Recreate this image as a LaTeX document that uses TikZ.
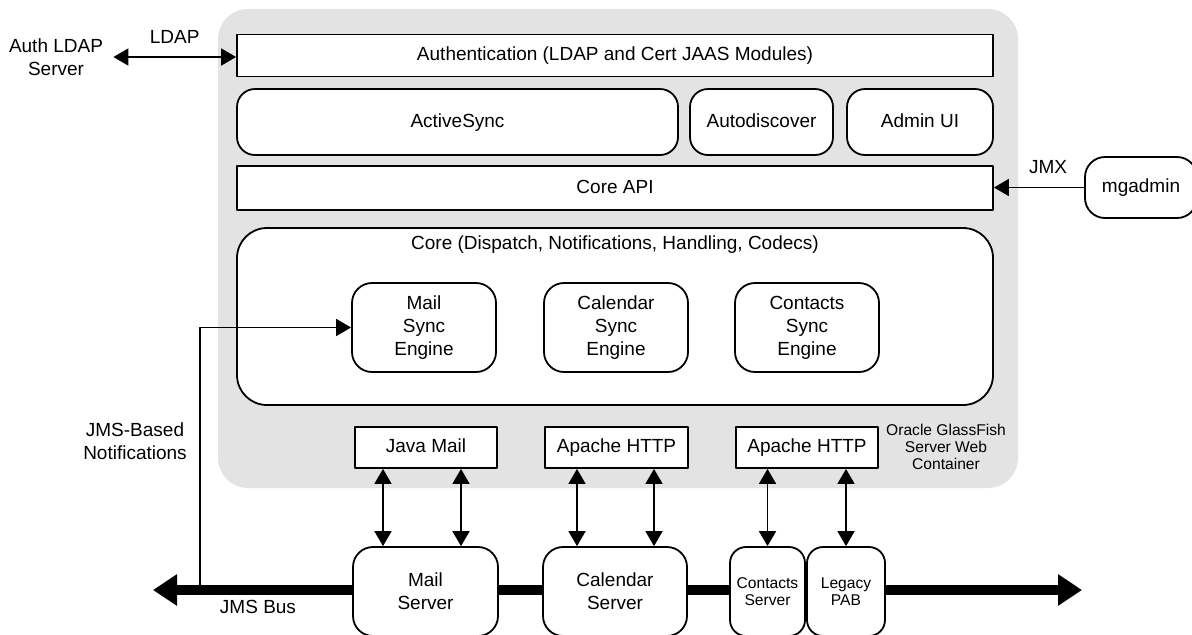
\documentclass[tikz,border=0pt]{standalone}
\usepackage{fontspec}
\setmainfont{Liberation Sans}
\usetikzlibrary{arrows.meta}

\begin{document}
\begin{tikzpicture}
	[x=0.5pt,y=-0.5pt,line join=round,
	font=\fontsize{9.5}{11.5}\selectfont,
	%Styles
	block/.style={draw,fill=white,line width=0.9pt,align=center,inner sep=0pt},
	rblock/.style={block,rounded corners=#1},
	rblock/.default=9pt,
	one line/.style={text height=7pt,text depth=2pt},
	small text/.style={align=center,font=\fontsize{7.8}{8.3}\selectfont},
	link/.style={line width=0.9pt,-{Triangle[width=8.5pt,length=7.5pt]}},
	both link/.style={line width=0.9pt,{Triangle[width=8.5pt,length=7.5pt]}-{Triangle[width=8.5pt,length=7.5pt]}},
	bus/.style={line width=5pt,{Triangle[width=15pt,length=12pt]}-{Triangle[width=15pt,length=12pt]}}
	]
	\useasboundingbox (0,0) rectangle (1192,634);

	%Web container
	\fill[black!11,rounded corners=15pt] (218,9) rectangle (1018,488);

	%JMS bus
	\coordinate (busleft) at (153,590);
	\coordinate (busright) at (1082,590);
	\coordinate (jmsjoin) at (200,590);
	\draw[bus] (busleft) -- (busright);

	%The graphic
	\node[block,one line,minimum width=378pt,minimum height=21pt] (auth) at (615,55.5) {Authentication (LDAP and Cert JAAS Modules)};
	\node[rblock,one line,minimum width=220.5pt,minimum height=33pt] (activesync) at (457.5,122) {ActiveSync};
	\node[rblock,one line,minimum width=71.5pt,minimum height=33pt] (autodisc) at (761.5,122) {Autodiscover};
	\node[rblock,one line,minimum width=73pt,minimum height=33pt] (adminui) at (920,122) {Admin UI};
	\node[block,one line,minimum width=378pt,minimum height=22pt] (coreapi) at (615,188) {Core API};

	\node[rblock=15pt,minimum width=378pt,minimum height=88.5pt] (core) at (615,316.5) {};
	\node (coretitle) at (615,245) {Core (Dispatch, Notifications, Handling, Codecs)};
	\node[rblock=10pt,minimum width=72pt,minimum height=44.5pt] (mailsync) at (424,327.5) {Mail\\Sync\\Engine};
	\node[rblock=10pt,minimum width=72pt,minimum height=44.5pt] (calsync) at (616,327.5) {Calendar\\Sync\\Engine};
	\node[rblock=10pt,minimum width=72pt,minimum height=44.5pt] (consync) at (807,327.5) {Contacts\\Sync\\Engine};

	\node[block,one line,minimum width=71pt,minimum height=20.5pt] (javamail) at (426,447.5) {Java Mail};
	\node[block,one line,minimum width=71.5pt,minimum height=20.5pt] (apache1) at (616.5,447.5) {Apache HTTP};
	\node[block,one line,minimum width=71pt,minimum height=20.5pt] (apache2) at (807,447.5) {Apache HTTP};
	\node[small text] (glassfish) at (946,447) {Oracle GlassFish\\Server Web\\Container};

	\node[rblock=10pt,minimum width=72.5pt,minimum height=44.5pt] (mailsrv) at (425.5,591.5) {Mail\\Server};
	\node[rblock=10pt,minimum width=72pt,minimum height=44.5pt] (calsrv) at (615,591.5) {Calendar\\Server};
	\node[rblock=8pt,minimum width=37.5pt,minimum height=44.5pt,small text] (consrv) at (767.5,591.5) {Contacts\\Server};
	\node[rblock=8pt,minimum width=39pt,minimum height=44.5pt,small text] (legsrv) at (846,591.5) {Legacy\\PAB};

	\node[align=center,inner sep=5pt] (authldap) at (56,57) {Auth LDAP\\Server};
	\node[rblock=10pt,one line,minimum width=56pt,minimum height=30.5pt] (mgadmin) at (1141,187.5) {mgadmin};
	\node (jmsbus) at (258,607) {JMS Bus};
	\node[align=center] (jmsnotes) at (135,441) {JMS-Based\\Notifications};

	%Connectors
	\draw[both link] (authldap.east) -- node[above=3pt] {LDAP} (authldap.east -| auth.west);
	\draw[link] (mgadmin.west) -- node[above=3pt,pos=0.4] {JMX} (mgadmin.west -| coreapi.east);
	\draw[link] (jmsjoin) |- (mailsync.west);

	\foreach \top/\bot/\dx in {javamail/mailsrv/-43, javamail/mailsrv/35,
		apache1/calsrv/-39.5, apache1/calsrv/37.5,
		apache2/consrv/-39.5, apache2/legsrv/39}
		\draw[both link] ([xshift=\dx*0.5pt]\top.south) -- ([xshift=\dx*0.5pt]\top.south |- \bot.north);
\end{tikzpicture}
\end{document}
